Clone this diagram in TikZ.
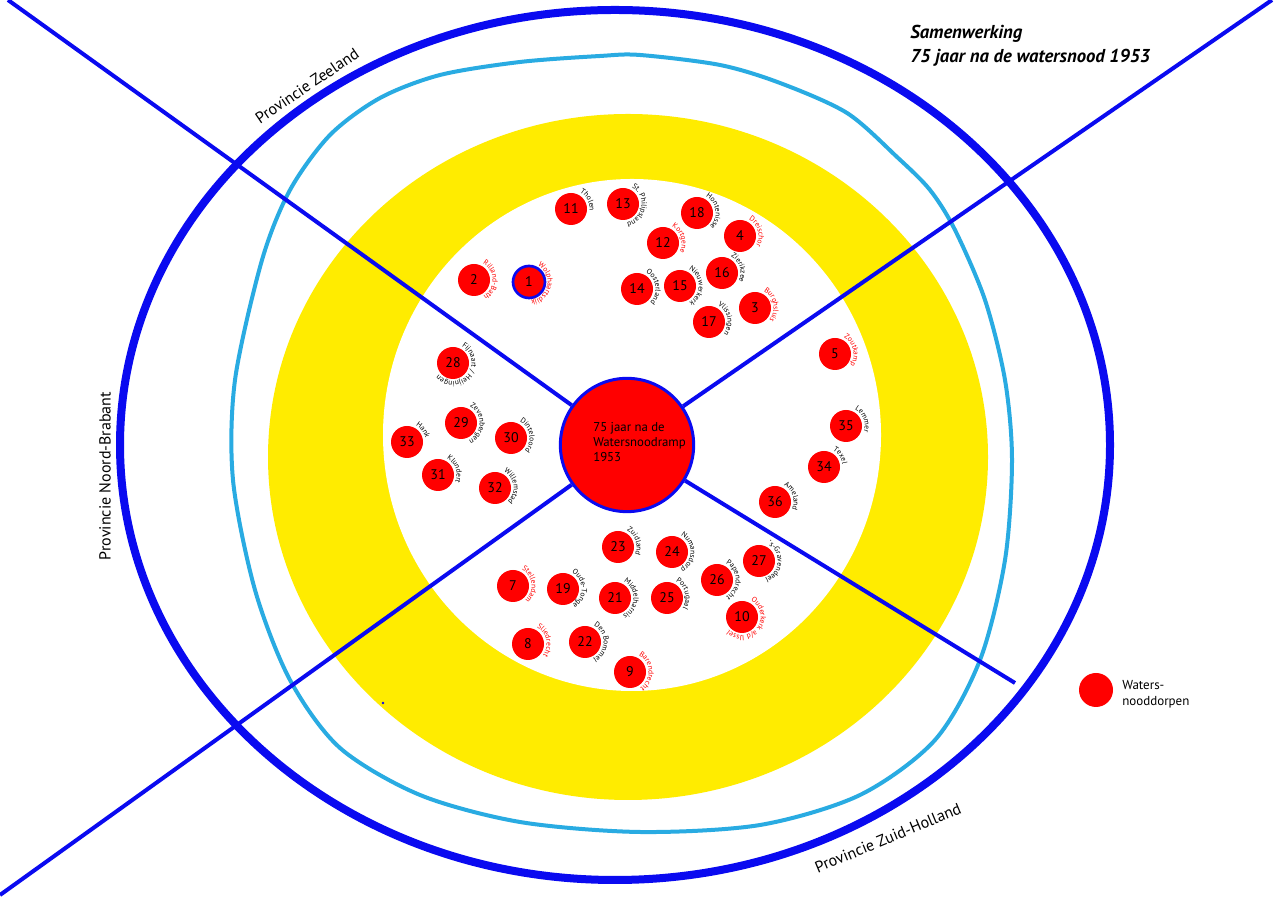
\documentclass[tikz,border=0pt]{standalone}
\usepackage{fontspec}
\setmainfont{PT Sans}
\usetikzlibrary{decorations.text}
\definecolor{dblue}{RGB}{10,10,240}
\definecolor{lblue}{RGB}{41,171,226}
\definecolor{ylw}{RGB}{255,236,0}
\definecolor{vred}{RGB}{255,0,0}
\newcommand\lblfont{\fontsize{5.6pt}{6pt}\selectfont}
\newcommand\village[6][]{%
  \node[vill,#1] (v#2) at (#3,905-#4) {#2};
  \path[decorate,decoration={text along path,text align=left,text={|\lblfont\color{#6}|#5}}]
    (v#2.center) ++(62:14pt) arc[start angle=62,end angle=-285,radius=14pt];
}
\tikzset{
  vill/.style={circle,fill=vred,minimum size=24pt,inner sep=0pt,font=\fontsize{10.5pt}{12pt}\selectfont},
  prov/.style={font=\fontsize{12pt}{14pt}\selectfont,inner sep=0pt},
  dline/.style={draw=dblue,line width=3pt},
}
\begin{document}
\begin{tikzpicture}[x=0.75pt,y=0.75pt]
\useasboundingbox (0,0) rectangle (1280,905);
\fill[white] (0,0) rectangle (1280,905);
% yellow ring
\fill[ylw] (628,448) ellipse[x radius=270pt,y radius=257.25pt];
\fill[white] (632,470) ellipse[x radius=186.75pt,y radius=192pt];
% light blue contour
\draw[lblue,line width=3pt] plot[smooth cycle] coordinates {
(640,850) (720,840) (780,822) (847,792) (897,748) (930,715) (955,675)
(985,605) (1005,525) (1012,445) (1005,345) (980,245) (935,165) (860,110)
(760,80) (640,73) (520,83) (420,110) (340,157) (290,225) (255,315)
(233,425) (235,525) (262,645) (290,715) (330,770) (380,807) (440,830)
(520,843) (600,849)};
% outer ellipse
\draw[dblue,line width=6pt] (615,460) ellipse[x radius=371.25pt,y radius=326.25pt];
% centre
\node[circle,draw=dblue,line width=2.25pt,fill=vred,minimum size=100pt,inner sep=0pt] (c) at (627,460) {};
\coordinate (tl) at (8,905);
\coordinate (bl) at (0,10);
\coordinate (tr) at (1272,905);
\coordinate (br) at (1015,222);
\draw[dline] (c) -- (tl);
\draw[dline] (c) -- (bl);
\draw[dline] (c) -- (tr);
\draw[dline] (c) -- (br);
\node[align=left,anchor=west,inner sep=0pt,font=\fontsize{9.6pt}{11.25pt}\selectfont] (ct) at (593,463) {75 jaar na de\\Watersnoodramp\\1953};
\fill[dblue] (383,202) circle[radius=1pt];
% villages
\village[draw=dblue,line width=2pt]{1}{529}{282}{Wolphaartsdijk}{vred}
\village{2}{474}{280}{Rilland-Bath}{vred}
\village{3}{755}{308}{Burghsluis}{vred}
\village{4}{740}{236}{Dreischor}{vred}
\village{5}{835}{354}{Zoutkamp}{vred}
\village{7}{513}{586}{Stellendam}{vred}
\village{8}{528}{644}{Sliedrecht}{vred}
\village{9}{630}{672}{Barendrecht}{vred}
\village{10}{742}{617}{Ouderkerk a/d IJssel}{vred}
\village{11}{571}{209}{Tholen}{black}
\village{12}{663}{243}{Kortgene}{vred}
\village{13}{623}{204}{St. Philipsland}{black}
\village{14}{637}{289}{Oosterland}{black}
\village{15}{680}{286}{Nieuwerkerk}{black}
\village{16}{722}{273}{Zierikzee}{black}
\village{17}{709}{322}{Vlissingen}{black}
\village{18}{697}{213}{Hontenisse}{black}
\village{19}{563}{589}{Oude-Tonge}{black}
\village{21}{615}{598}{Middelharnis}{black}
\village{22}{585}{642}{Den Bommel}{black}
\village{23}{618}{547}{Zuidland}{black}
\village{24}{672}{552}{Numansdorp}{black}
\village{25}{667}{598}{Portugaal}{black}
\village{26}{717}{580}{Papendrecht}{black}
\village{27}{759}{561}{'s-Gravendeel}{black}
\village{28}{453}{363}{Fijnaart / Heijningen}{black}
\village{29}{461}{423}{Zevenbergen}{black}
\village{30}{511}{438}{Dinteloord}{black}
\village{31}{438}{475}{Klundert}{black}
\village{32}{495}{488}{Willemstad}{black}
\village{33}{407}{442}{Hank}{black}
\village{34}{824}{467}{Texel}{black}
\village{35}{846}{426}{Lemmer}{black}
\village{36}{775}{502}{Ameland}{black}
% provinces
\node[prov,rotate=34] (pz) at (307,819) {Provincie Zeeland};
\node[prov,rotate=90] (pnb) at (105,429) {Provincie Noord-Brabant};
\node[prov,rotate=22.6] (pzh) at (888,67) {Provincie Zuid-Holland};
% title
\node[anchor=west,align=left,inner sep=0pt,font=\fontsize{14pt}{18pt}\selectfont\bfseries\itshape] (title) at (910,859) {Samenwerking\\75 jaar na de watersnood 1953};
% legend
\node[circle,fill=vred,minimum size=25.5pt,inner sep=0pt] (leg) at (1096,215) {};
\node[anchor=west,align=left,inner sep=0pt,font=\fontsize{9.75pt}{12pt}\selectfont] (legt) at (1122,211) {Waters-\\nooddorpen};
\end{tikzpicture}
\end{document}
